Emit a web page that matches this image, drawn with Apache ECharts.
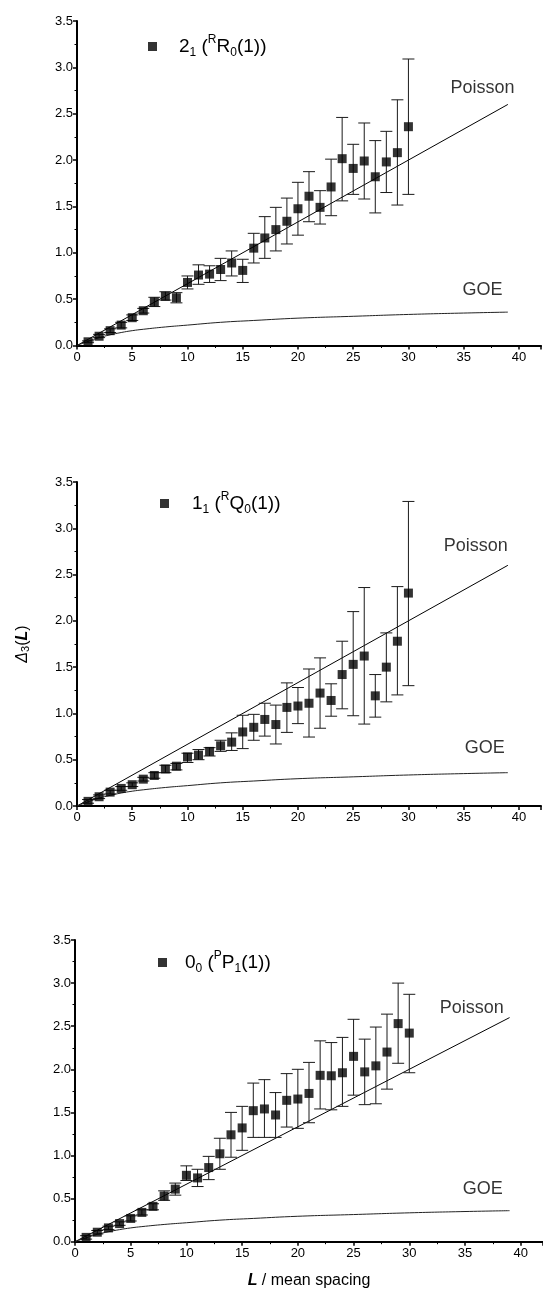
<!DOCTYPE html>
<html>
<head>
<meta charset="utf-8">
<script src="https://cdn.jsdelivr.net/npm/echarts@6/dist/echarts.min.js"></script>
<style>
  html, body { margin: 0; padding: 0; background: #fff; }
  #chart { width: 543px; height: 1290px; }
</style>
</head>
<body>
<div id="chart"></div>
<script>
// L values (mean spacing units)
const L = [1, 2, 3, 4, 5, 6, 7, 8, 9, 10, 11, 12, 13, 14, 15, 16, 17, 18, 19, 20, 21, 22, 23, 24, 25, 26, 27, 28, 29, 30];

// panel 1: 2_1 (RR0(1))
const p1Mean = [0.04, 0.10, 0.16, 0.22, 0.30, 0.375, 0.47, 0.53, 0.515, 0.68, 0.76, 0.77, 0.82, 0.89, 0.81, 1.05, 1.16, 1.25, 1.34, 1.475, 1.61, 1.49, 1.71, 2.015, 1.91, 1.99, 1.82, 1.98, 2.08, 2.36];
const p1Low  = [0.03, 0.085, 0.14, 0.19, 0.27, 0.35, 0.42, 0.49, 0.46, 0.61, 0.66, 0.68, 0.70, 0.75, 0.68, 0.89, 0.94, 1.02, 1.095, 1.19, 1.335, 1.31, 1.40, 1.56, 1.63, 1.58, 1.43, 1.65, 1.515, 1.63];
const p1High = [0.05, 0.12, 0.18, 0.25, 0.33, 0.40, 0.52, 0.58, 0.57, 0.75, 0.87, 0.86, 0.94, 1.02, 0.93, 1.21, 1.39, 1.49, 1.59, 1.76, 1.875, 1.67, 2.01, 2.46, 2.17, 2.40, 2.21, 2.31, 2.65, 3.09];

// panel 2: 1_1 (RQ0(1))
const p2Mean = [0.05, 0.10, 0.15, 0.19, 0.23, 0.29, 0.33, 0.40, 0.43, 0.53, 0.55, 0.59, 0.65, 0.69, 0.80, 0.85, 0.935, 0.88, 1.065, 1.08, 1.11, 1.22, 1.14, 1.42, 1.53, 1.62, 1.19, 1.50, 1.78, 2.30];
const p2Low  = [0.03, 0.08, 0.13, 0.17, 0.21, 0.27, 0.30, 0.36, 0.39, 0.47, 0.50, 0.54, 0.59, 0.60, 0.62, 0.71, 0.755, 0.67, 0.795, 0.89, 0.745, 0.84, 0.97, 1.05, 0.975, 0.885, 0.96, 1.125, 1.20, 1.30];
const p2High = [0.07, 0.12, 0.17, 0.21, 0.25, 0.31, 0.36, 0.44, 0.46, 0.57, 0.61, 0.63, 0.71, 0.79, 0.98, 0.99, 1.11, 1.09, 1.33, 1.28, 1.48, 1.60, 1.32, 1.78, 2.10, 2.36, 1.42, 1.87, 2.37, 3.29];

// panel 3: 0_0 (PP1(1))
const p3Mean = [0.05, 0.11, 0.16, 0.21, 0.27, 0.34, 0.41, 0.53, 0.61, 0.77, 0.74, 0.86, 1.02, 1.24, 1.32, 1.52, 1.54, 1.47, 1.64, 1.655, 1.72, 1.93, 1.925, 1.96, 2.15, 1.97, 2.04, 2.20, 2.53, 2.42];
const p3Low  = [0.03, 0.09, 0.14, 0.19, 0.24, 0.31, 0.37, 0.48, 0.54, 0.71, 0.64, 0.72, 0.84, 0.98, 1.06, 1.21, 1.21, 1.21, 1.33, 1.315, 1.38, 1.54, 1.53, 1.57, 1.70, 1.59, 1.60, 1.77, 2.07, 1.96];
const p3High = [0.07, 0.13, 0.18, 0.23, 0.30, 0.37, 0.44, 0.59, 0.68, 0.88, 0.84, 0.99, 1.20, 1.50, 1.57, 1.84, 1.88, 1.73, 1.95, 2.00, 2.08, 2.33, 2.31, 2.37, 2.58, 2.35, 2.49, 2.64, 3.00, 2.87];

// reference curves
const poissonL = [0, 39];
const poissonV = [0, 2.6];
const goeL = [0, 1, 2, 3, 4, 5, 6, 8, 10, 13, 16, 20, 25, 30, 35, 39];
const goeV = [0, 0.045, 0.085, 0.115, 0.14, 0.16, 0.175, 0.2, 0.22, 0.25, 0.27, 0.295, 0.315, 0.335, 0.35, 0.36];

const yTicks = [0, 0.5, 1.0, 1.5, 2.0, 2.5, 3.0, 3.5];
const xTicks = [0, 5, 10, 15, 20, 25, 30, 35, 40];

const FONT = '"Liberation Sans", Arial, sans-serif';

const panels = [
  { name: 'p1', mean: p1Mean, low: p1Low, high: p1High,
    legend: '{g| }2{sub|1} ({sup|R}R{sub|0}(1))',
    grid: { left: 77, top: 21, width: 464, height: 324.5 },
    legendPos: { left: 143, top: 29, gap: 17 },
    poissonAt: [36.7, 2.78], goeAt: [36.7, 0.6] },
  { name: 'p2', mean: p2Mean, low: p2Low, high: p2High,
    legend: '{g| }1{sub|1} ({sup|R}Q{sub|0}(1))',
    grid: { left: 77, top: 482, width: 464, height: 324 },
    legendPos: { left: 155, top: 486, gap: 18 },
    poissonAt: [36.1, 2.81], goeAt: [36.9, 0.63] },
  { name: 'p3', mean: p3Mean, low: p3Low, high: p3High,
    legend: '{g| }0{sub|0} ({sup|P}P{sub|1}(1))',
    grid: { left: 75, top: 940, width: 468, height: 301.7 },
    legendPos: { left: 153, top: 945, gap: 13 },
    poissonAt: [35.6, 2.71], goeAt: [36.6, 0.61] }
];

const chart = echarts.init(document.getElementById('chart'), null, { renderer: 'canvas' });

const richLegend = (gap) => ({
  g: { width: gap, fontSize: 19 },
  sub: { fontSize: 12, fontFamily: FONT, verticalAlign: 'bottom', lineHeight: 15, color: '#000' },
  sup: { fontSize: 12, fontFamily: FONT, verticalAlign: 'top', lineHeight: 15, color: '#000' }
});

function errorBar(params, api) {
  const x = api.value(0);
  const lo = api.coord([x, api.value(1)]);
  const hi = api.coord([x, api.value(2)]);
  const w = 6;
  const style = { stroke: '#1a1a1a', lineWidth: 1 };
  return {
    type: 'group',
    children: [
      { type: 'line', shape: { x1: lo[0], y1: lo[1], x2: hi[0], y2: hi[1] }, style },
      { type: 'line', shape: { x1: hi[0] - w, y1: hi[1], x2: hi[0] + w, y2: hi[1] }, style },
      { type: 'line', shape: { x1: lo[0] - w, y1: lo[1], x2: lo[0] + w, y2: lo[1] }, style }
    ]
  };
}

const grids = [], xAxes = [], yAxes = [], legends = [], series = [];

panels.forEach((p, i) => {
  grids.push(p.grid);

  const xAxis = {
    type: 'value', gridIndex: i, min: 0, max: 42, interval: 5,
    splitLine: { show: false },
    axisLine: { onZero: false, lineStyle: { color: '#000', width: 2 } },
    axisTick: { length: 4, lineStyle: { color: '#000', width: 1.5 } },
    minorTick: { show: true, splitNumber: 2, length: 2.5, lineStyle: { color: '#000', width: 1 } },
    axisLabel: {
      color: '#000', fontSize: 13, fontFamily: FONT, margin: 5,
      showMaxLabel: false,
      formatter: v => (xTicks.includes(v) ? String(v) : '')
    }
  };
  if (i === 2) {
    xAxis.name = '{b|L} / mean spacing';
    xAxis.nameLocation = 'middle';
    xAxis.nameGap = 31;
    xAxis.nameTextStyle = {
      color: '#000', fontSize: 16, fontFamily: FONT,
      rich: { b: { fontSize: 16, fontFamily: FONT, fontWeight: 'bold', fontStyle: 'italic', color: '#000' } }
    };
  }
  xAxes.push(xAxis);

  const yAxis = {
    type: 'value', gridIndex: i, min: 0, max: 3.5, interval: 0.5,
    splitLine: { show: false },
    axisLine: { show: true, lineStyle: { color: '#000', width: 2 } },
    axisTick: { show: true, length: 4, lineStyle: { color: '#000', width: 1.5 } },
    minorTick: { show: true, splitNumber: 2, length: 2.5, lineStyle: { color: '#000', width: 1 } },
    axisLabel: {
      color: '#000', fontSize: 13, fontFamily: FONT, margin: 4,
      formatter: v => (yTicks.includes(v) ? v.toFixed(1) : '')
    }
  };
  if (i === 1) {
    yAxis.name = '{d|Δ}{s|3}({b|L})';
    yAxis.nameLocation = 'middle';
    yAxis.nameRotate = 90;
    yAxis.nameGap = 46;
    yAxis.nameTextStyle = {
      color: '#000', fontSize: 16, fontFamily: FONT,
      rich: {
        d: { fontSize: 16, fontFamily: FONT, fontStyle: 'italic', color: '#000' },
        s: { fontSize: 11, fontFamily: FONT, verticalAlign: 'bottom', lineHeight: 14, color: '#000' },
        b: { fontSize: 16, fontFamily: FONT, fontWeight: 'bold', fontStyle: 'italic', color: '#000' }
      }
    };
  }
  yAxes.push(yAxis);

  legends.push({
    data: [p.name],
    left: p.legendPos.left, top: p.legendPos.top,
    orient: 'horizontal', icon: 'rect', itemWidth: 9, itemHeight: 9,
    selectedMode: false,
    formatter: () => p.legend,
    textStyle: { color: '#000', fontSize: 19, fontFamily: FONT, lineHeight: 25, rich: richLegend(p.legendPos.gap) }
  });

  series.push({
    type: 'line', xAxisIndex: i, yAxisIndex: i, silent: true,
    data: poissonL.map((x, k) => [x, poissonV[k]]),
    showSymbol: false, lineStyle: { color: '#000', width: 1 }, z: 1
  });
  series.push({
    type: 'line', xAxisIndex: i, yAxisIndex: i, silent: true, smooth: true,
    data: goeL.map((x, k) => [x, goeV[k]]),
    showSymbol: false, lineStyle: { color: '#222', width: 1 }, z: 1
  });
  series.push({
    type: 'custom', xAxisIndex: i, yAxisIndex: i, silent: true,
    renderItem: errorBar,
    encode: { x: 0, y: [1, 2] },
    data: L.map((x, k) => [x, p.low[k], p.high[k]]), z: 2
  });
  series.push({
    name: p.name, type: 'scatter', xAxisIndex: i, yAxisIndex: i, silent: true,
    symbol: 'rect', symbolSize: 9,
    itemStyle: { color: '#000' },
    data: L.map((x, k) => [x, p.mean[k]]), z: 3
  });
  series.push({
    type: 'scatter', xAxisIndex: i, yAxisIndex: i, silent: true,
    symbolSize: 1, itemStyle: { color: 'transparent' },
    label: {
      show: true, position: 'inside', color: '#000', fontSize: 18, fontFamily: FONT,
      formatter: d => d.data[2]
    },
    data: [[p.poissonAt[0], p.poissonAt[1], 'Poisson'], [p.goeAt[0], p.goeAt[1], 'GOE']], z: 4
  });
});

chart.setOption({
  backgroundColor: '#fff',
  animation: false,
  grid: grids,
  xAxis: xAxes,
  yAxis: yAxes,
  legend: legends,
  series
});
</script>
</body>
</html>
